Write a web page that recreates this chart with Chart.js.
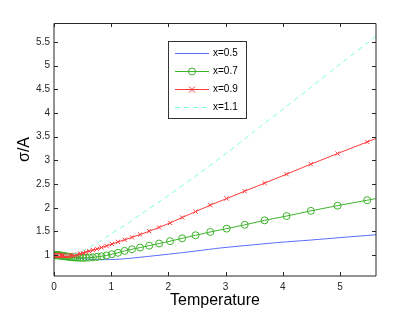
<!DOCTYPE html>
<html><head><meta charset="utf-8">
<script src="https://cdn.jsdelivr.net/npm/chart.js@4/dist/chart.umd.min.js"></script>
<style>html,body{margin:0;padding:0;background:#fff}#wrap{width:415px;height:312px}</style>
</head><body><div id="wrap"><canvas id="c" width="415" height="312"></canvas></div>
<script>
const seriesLabels = ['x=0.5', 'x=0.7', 'x=0.9', 'x=1.1'];
const seriesColors = ['#5a6cff', '#3cb32a', '#ff3c3c', '#7dffd6'];

// temperatures where the marked series (x=0.7, x=0.9) were sampled
const markerTemps = [0.021,0.023,0.026,0.028,0.031,0.035,0.038,0.042,0.047,0.052,
  0.057,0.063,0.069,0.077,0.085,0.094,0.103,
  0.114,0.126,0.139,0.154,0.170,0.187,0.207,0.228,0.252,0.279,
  0.308,0.340,0.375,0.414,0.458,0.506,0.558,0.617,0.681,0.752,
  0.830,0.917,1.013,1.118,1.235,1.364,1.506,1.664,1.837,2.029,
  2.241,2.475,2.733,3.019,3.334,3.682,4.066,4.491,4.959,5.477,
  6.049];
const greenVals = [1.0,1.0,1.0,1.0,1.0,1.0,1.0,1.0,1.0,1.0,
  1.0,0.999,0.998,0.997,0.996,0.995,0.994,
  0.992,0.99,0.988,0.985,0.982,0.978,0.974,0.97,0.966,0.961,
  0.957,0.953,0.95,0.947,0.945,0.944,0.945,0.948,0.954,0.963,
  0.976,0.994,1.02,1.05,1.09,1.125,1.16,1.2,1.245,1.295,
  1.355,1.42,1.49,1.56,1.64,1.735,1.825,1.935,2.045,2.16,
  2.285];
const redVals = [1.0,1.0,1.0,1.0,1.0,1.0,1.0,1.0,1.0,1.0,
  0.999,0.998,0.997,0.996,0.995,0.994,0.993,
  0.991,0.99,0.988,0.986,0.985,0.984,0.983,0.983,0.984,0.986,
  0.99,0.996,1.004,1.015,1.03,1.045,1.063,1.083,1.106,1.132,
  1.16,1.195,1.235,1.28,1.325,1.375,1.435,1.505,1.585,1.68,
  1.795,1.92,2.055,2.195,2.35,2.52,2.71,2.92,3.145,3.39,
  3.66];
const blueTemps = [0.02,0.1,0.2,0.3,0.4,0.5,0.6,0.7,0.8,0.9,1.0,1.15,1.5,2.0,2.5,2.9,3.5,3.95,4.5,5.0,5.63,6.05];
const blueVals  = [1.0,0.995,0.975,0.955,0.94,0.925,0.915,0.91,0.905,0.905,0.908,0.915,0.955,1.02,1.09,1.15,1.22,1.27,1.32,1.37,1.43,1.47];
const cyanTemps = [0.02,0.1,0.2,0.3,0.4,0.5,0.6,0.7,0.8,0.9,1.0,1.25,1.5,2.0,2.5,3.0,3.5,4.0,4.5,5.0,5.5,6.05];
const cyanVals  = [1.0,1.0,1.0,1.01,1.04,1.09,1.15,1.22,1.29,1.37,1.45,1.64,1.85,2.26,2.69,3.14,3.61,4.08,4.55,5.03,5.5,6.02];

const xTickVals = [0, 1, 2, 3, 4, 5];
const yTickVals = [1, 1.5, 2, 2.5, 3, 3.5, 4, 4.5, 5, 5.5];
const xLimits = [0, 5.63];
const yLimits = [0.56, 5.9];

const pairs = (xs, ys) => xs.map((x, i) => ({x: x, y: ys[i]}));

const FONT = "'Liberation Sans', Arial, sans-serif";

const boxPlugin = {
  id: 'box',
  afterDatasetsDraw(chart) {
    const {ctx, chartArea: a, scales} = chart;
    ctx.save();
    ctx.strokeStyle = '#262626';
    ctx.lineWidth = 1;
    // ticks (inward)
    ctx.beginPath();
    xTickVals.forEach(v => {
      const px = Math.round(scales.x.getPixelForValue(v)) + 0.5;
      ctx.moveTo(px, a.bottom); ctx.lineTo(px, a.bottom - 4);
      ctx.moveTo(px, a.top); ctx.lineTo(px, a.top + 4);
    });
    yTickVals.forEach(v => {
      const py = Math.round(scales.y.getPixelForValue(v)) + 0.5;
      ctx.moveTo(a.left, py); ctx.lineTo(a.left + 4, py);
      ctx.moveTo(a.right, py); ctx.lineTo(a.right - 4, py);
    });
    ctx.stroke();
    ctx.beginPath();
    ctx.rect(a.left, a.top + 0.5, a.right - a.left, a.bottom - a.top - 0.5);
    ctx.stroke();
    ctx.restore();
  },
  afterDraw(chart) {
    const {ctx} = chart;
    const bx = 168.5, by = 41.5, bw = 78, bh = 77;
    ctx.save();
    ctx.fillStyle = '#fff';
    ctx.fillRect(bx, by, bw, bh);
    ctx.strokeStyle = '#333';
    ctx.lineWidth = 1;
    ctx.strokeRect(bx, by, bw, bh);
    const rows = [53, 71, 89, 107];
    chart.data.datasets.forEach((ds, i) => {
      const y = rows[i] + 0.5;
      ctx.strokeStyle = ds.borderColor;
      ctx.lineWidth = 1;
      ctx.setLineDash(ds.borderDash || []);
      ctx.beginPath(); ctx.moveTo(175, y); ctx.lineTo(209, y); ctx.stroke();
      ctx.setLineDash([]);
      if (ds.pointStyle === 'circle' && ds.pointRadius > 0) {
        ctx.beginPath(); ctx.arc(192, y, ds.pointRadius, 0, Math.PI * 2); ctx.stroke();
      } else if (ds.pointStyle === 'crossRot' && ds.pointRadius > 0) {
        const r = ds.pointRadius;
        ctx.beginPath();
        ctx.moveTo(192 - r, y - r); ctx.lineTo(192 + r, y + r);
        ctx.moveTo(192 - r, y + r); ctx.lineTo(192 + r, y - r);
        ctx.stroke();
      }
      ctx.fillStyle = '#000';
      ctx.font = '10px ' + FONT;
      ctx.textBaseline = 'middle';
      ctx.textAlign = 'left';
      ctx.fillText(ds.label, 213, y);
    });
    ctx.restore();
  }
};

new Chart(document.getElementById('c'), {
  type: 'line',
  data: {
    datasets: [
      {label: seriesLabels[0], data: pairs(blueTemps, blueVals), borderColor: seriesColors[0], borderWidth: 1, pointRadius: 0, pointStyle: 'line', order: 4, tension: 0.3},
      {label: seriesLabels[1], data: pairs(markerTemps, greenVals), borderColor: seriesColors[1], borderWidth: 1, pointRadius: 3.5, pointStyle: 'circle', pointBackgroundColor: 'rgba(0,0,0,0)', pointBorderColor: seriesColors[1], pointBorderWidth: 1, order: 3},
      {label: seriesLabels[2], data: pairs(markerTemps, redVals), borderColor: seriesColors[2], borderWidth: 1, pointRadius: 3, pointStyle: 'crossRot', pointBorderColor: seriesColors[2], pointBorderWidth: 1, order: 2},
      {label: seriesLabels[3], data: pairs(cyanTemps, cyanVals), borderColor: seriesColors[3], borderWidth: 1, borderDash: [5, 4], pointRadius: 0, order: 1, tension: 0.3}
    ]
  },
  options: {
    responsive: false,
    animation: false,
    devicePixelRatio: 1,
    layout: {padding: {top: 23, right: 39, left: 0, bottom: 0}},
    plugins: {legend: {display: false}, tooltip: {enabled: false}},
    scales: {
      x: {
        type: 'linear', min: xLimits[0], max: xLimits[1],
        afterBuildTicks: s => { s.ticks = xTickVals.map(v => ({value: v})); },
        afterFit: s => { s.height = 36; },
        grid: {display: false, drawTicks: false},
        border: {display: false},
        ticks: {font: {family: FONT, size: 10}, color: '#262626', padding: 5, maxRotation: 0, autoSkip: false, callback: v => String(v)},
        title: {display: true, text: 'Temperature', font: {family: FONT, size: 16}, color: '#000', padding: {top: 0, bottom: 2}}
      },
      y: {
        type: 'linear', min: yLimits[0], max: yLimits[1],
        afterBuildTicks: s => { s.ticks = yTickVals.map(v => ({value: v})); },
        afterFit: s => { s.width = 54; },
        grid: {display: false, drawTicks: false},
        border: {display: false},
        ticks: {font: {family: FONT, size: 10}, color: '#262626', padding: 4, autoSkip: false, callback: v => String(v)},
        title: {display: true, text: 'σ/A', font: {family: FONT, size: 16}, color: '#000', padding: {top: 15, bottom: 0}}
      }
    }
  },
  plugins: [boxPlugin]
});
</script></body></html>
